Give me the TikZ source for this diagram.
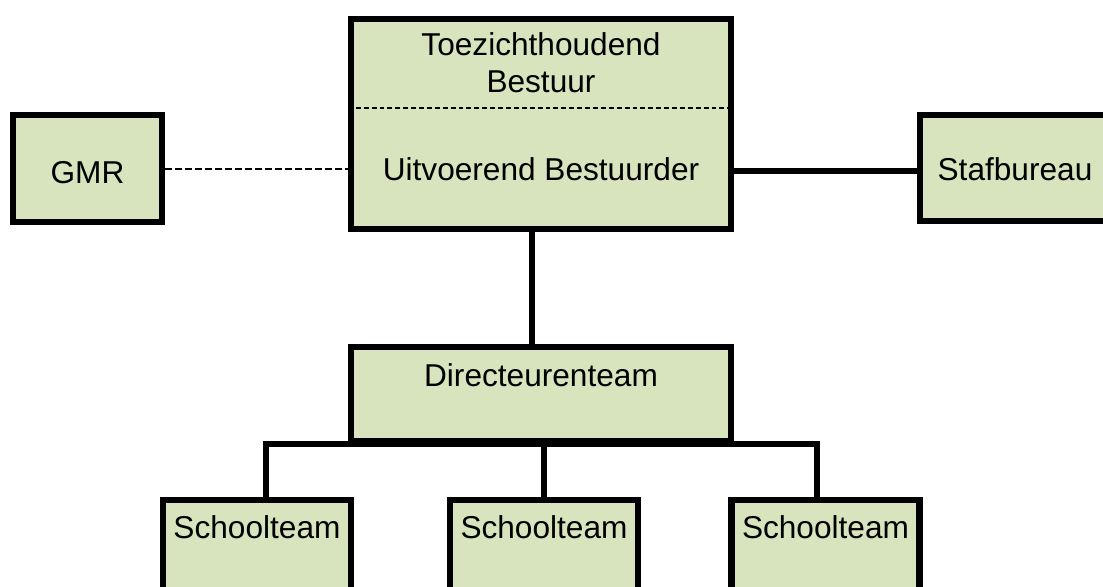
\documentclass[tikz,border=0pt]{standalone}
\usepackage{fontspec}
\setmainfont{Liberation Sans}
\usepackage{xcolor}
\definecolor{groen}{HTML}{D7E4BD}

\begin{document}
\begin{tikzpicture}[x=0.02cm, y=-0.02cm,
    blok/.style={draw, line width=3.6pt, fill=groen, inner sep=0pt, anchor=north,
      font=\fontsize{18}{21}\selectfont},
    tekst/.style={inner sep=0pt, font=\fontsize{18}{21}\selectfont},
    lijn/.style={line width=3.6pt},
    stippel/.style={line width=1pt, dash pattern=on 4pt off 1.7pt},
    scheiding/.style={line width=0.6pt, dash pattern=on 2.8pt off 1.7pt}]

    % kader van het plaatje
    \useasboundingbox (0,0) rectangle (1103,586);
    \clip (0,0) rectangle (1103,586);

    % bestuur
    \node[blok, minimum width=7.6cm, minimum height=4.2cm] (bestuur) at (541,16) {};
    \coordinate (deel) at (541,108);
    \draw[scheiding] (bestuur.west |- deel) -- (bestuur.east |- deel);
    \node[tekst, align=center] (toezicht) at (541,63) {Toezichthoudend\\Bestuur};
    \node[tekst, anchor=base] (uitvoerend) at (541,180) {Uitvoerend Bestuurder};

    % zijkant
    \node[blok, minimum width=2.98cm, text height=1.36cm, text depth=0.78cm] (gmr) at (87.5,112) {GMR};
    \node[blok, minimum width=3.8cm, text height=1.3cm, text depth=0.82cm] (staf) at (1015,112) {Stafbureau};

    % directeuren
    \node[blok, minimum width=7.6cm, text height=0.78cm, text depth=1.1cm] (dir) at (541,344) {Directeurenteam};

    % scholen
    \node[blok, minimum width=3.76cm, text height=0.76cm, text depth=1.6cm] (school1) at (257,497) {Schoolteam};
    \node[blok, minimum width=3.76cm, text height=0.76cm, text depth=1.6cm] (school2) at (544,497) {Schoolteam};
    \node[blok, minimum width=3.76cm, text height=0.76cm, text depth=1.6cm] (school3) at (825.5,497) {Schoolteam};

    % lijnen
    \draw[stippel] (gmr.east) -- (gmr.east -| bestuur.west);
    \draw[lijn] ([yshift=-0.06cm]staf.west) -- ([yshift=-0.06cm]staf.west -| bestuur.east);
    \draw[lijn] ([xshift=-0.18cm]bestuur.south) -- ([xshift=-0.18cm]dir.north);
    \draw[lijn] ([xshift=0.18cm]school1.north) |- (dir.south) -| ([xshift=-0.17cm]school3.north);
    \draw[lijn] (school2.north) -- (school2.north |- dir.south);

\end{tikzpicture}
\end{document}
